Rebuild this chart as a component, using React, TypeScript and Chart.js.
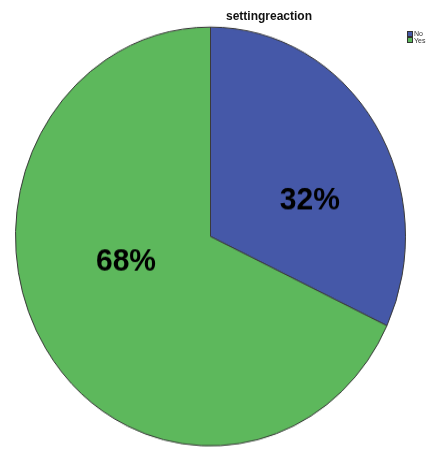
import React, { useEffect, useRef } from "react";
import { Chart, registerables } from "chart.js";

Chart.register(...registerables);

const categories = ["No", "Yes"];
const values = [32, 68];
const colors = ["#4558A8", "#5DB85C"];
const chartTitle = "settingreaction";

const CANVAS_W = 435;
const CANVAS_H = 419;
const SCALE_Y = 450 / CANVAS_H;

const labelPlugin = {
  id: "pctLabels",
  afterDatasetsDraw(chart: any, _args: any, opts: any) {
    const meta = chart.getDatasetMeta(0);
    const data = chart.data.datasets[0].data as number[];
    const total = data.reduce((a, b) => a + b, 0);
    const ctx = chart.ctx;
    const rot: number[] = opts.rotateDeg || [];
    const frac: number[] = opts.radiusFrac || [];
    ctx.save();
    ctx.font = "bold 30px 'Liberation Sans', Arial, sans-serif";
    ctx.fillStyle = "#000";
    ctx.textAlign = "center";
    ctx.textBaseline = "middle";
    meta.data.forEach((arc: any, i: number) => {
      const p = arc.getProps(["x", "y", "startAngle", "endAngle", "outerRadius"], true);
      const mid = (p.startAngle + p.endAngle) / 2 + ((rot[i] ?? 15) * Math.PI) / 180;
      const r = p.outerRadius * (frac[i] ?? 0.5);
      const x = p.x + Math.cos(mid) * r;
      const y = p.y + Math.sin(mid) * r;
      ctx.fillText(Math.round((data[i] / total) * 100) + "%", x, y);
    });
    ctx.restore();
  },
};

export default function App() {
  const ref = useRef<HTMLCanvasElement | null>(null);
  useEffect(() => {
    if (!ref.current) return;
    const chart = new Chart(ref.current, {
      type: "pie",
      data: {
        labels: categories,
        datasets: [
          {
            data: values,
            backgroundColor: colors,
            borderColor: "#3a3a3a",
            borderWidth: 1,
          },
        ],
      },
      options: {
        animation: false,
        responsive: false,
        maintainAspectRatio: false,
        devicePixelRatio: 1,
        layout: { padding: { left: 15, right: 29, top: 24.7, bottom: 3.3 } },
        plugins: {
          legend: { display: false },
          title: { display: false },
          tooltip: { enabled: false },
          pctLabels: { rotateDeg: [14, 16.7], radiusFrac: [0.537, 0.45] },
        } as any,
      },
      plugins: [labelPlugin],
    });
    return () => chart.destroy();
  }, []);

  return (
    <div
      style={{
        position: "absolute",
        left: 0,
        top: 0,
        width: 435,
        height: 450,
        background: "#fff",
        overflow: "hidden",
        fontFamily: "'Liberation Sans', Arial, sans-serif",
      }}
    >
      <canvas
        ref={ref}
        width={CANVAS_W}
        height={CANVAS_H}
        style={{
          position: "absolute",
          left: 0,
          top: 0,
          width: CANVAS_W,
          height: CANVAS_H,
          transform: `scaleY(${SCALE_Y})`,
          transformOrigin: "0 0",
        }}
      />
      <div
        style={{
          position: "absolute",
          left: 226,
          top: 9,
          fontSize: 12,
          fontWeight: "bold",
          color: "#111",
          whiteSpace: "nowrap",
        }}
      >
        {chartTitle}
      </div>
      {categories.map((c, i) => (
        <div
          key={c}
          style={{
            position: "absolute",
            left: 407,
            top: 30.5 + i * 6.5,
            height: 6,
            display: "flex",
            alignItems: "center",
            fontSize: 7,
            color: "#333",
            whiteSpace: "nowrap",
          }}
        >
          <span
            style={{
              display: "inline-block",
              width: 4,
              height: 4,
              background: colors[i],
              border: "0.5px solid #333",
              marginRight: 1,
            }}
          />
          {c}
        </div>
      ))}
    </div>
  );
}
